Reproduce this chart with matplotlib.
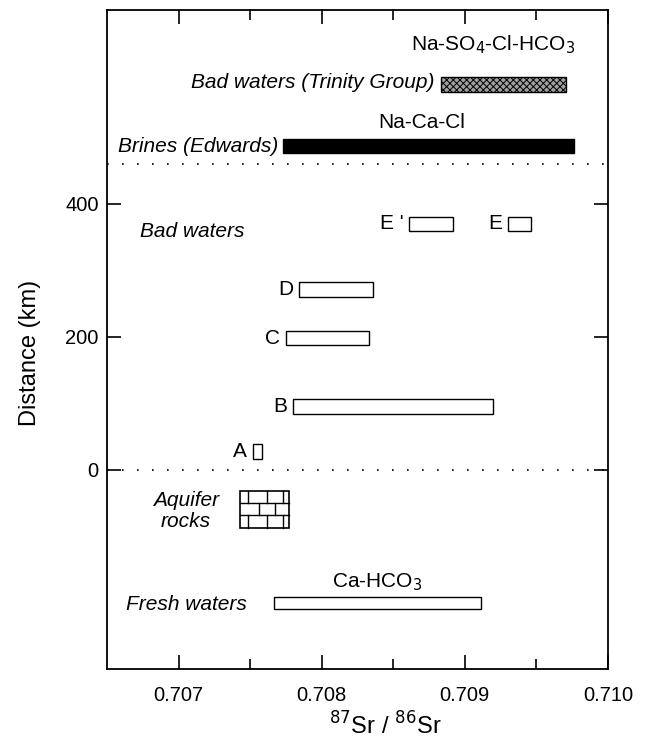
import matplotlib.pyplot as plt
from matplotlib.patches import Rectangle

plt.rcParams['font.family'] = ['Liberation Sans', 'DejaVu Sans']
plt.rcParams['hatch.linewidth'] = 0.7

# bad water samples along the flow path
labels = ["A", "B", "C", "D", "E '", "E"]
sr_lo = [0.70752, 0.70780, 0.70775, 0.70784, 0.70861, 0.70930]
sr_hi = [0.70758, 0.70920, 0.70833, 0.70836, 0.70892, 0.70946]
dist = [27, 95, 198, 271, 370, 370]

# groups
brine_sr = [0.70773, 0.70976]
brine_y = 487
trinity_sr = [0.70883, 0.70971]
trinity_y = 580
rock_sr = [0.70743, 0.70777]
rock_y = [-87, -32]
fresh_sr = [0.70767, 0.70911]
fresh_y = -200

fig = plt.figure(figsize=(6.59, 7.46), dpi=100)
ax = fig.add_axes([0.1624, 0.1032, 0.7602, 0.8834])
ax.set_xlim(0.7065, 0.7100)
ax.set_ylim(-300, 692)

fs = 15

# sample boxes
h = 22
for lab, lo, hi, d in zip(labels, sr_lo, sr_hi, dist):
    ax.add_patch(Rectangle((lo, d - h / 2), hi - lo, h, fill=False, lw=1.0, ec='black'))
    ax.text(lo - 0.00004, d, lab, ha='right', va='center', fontsize=fs)

# brines and trinity
ax.add_patch(Rectangle((brine_sr[0], brine_y - 11), brine_sr[1] - brine_sr[0], 22,
                       fc='black', ec='black'))
ax.add_patch(Rectangle((trinity_sr[0], trinity_y - 11), trinity_sr[1] - trinity_sr[0], 22,
                       fc='#a0a0a0', ec='black', hatch='xxxxx', lw=1.0))
ax.text(trinity_sr[0] - 0.00004, trinity_y + 3, 'Bad waters (Trinity Group)',
        ha='right', va='center', fontsize=fs, style='italic')
ax.text(0.70920, 622, r'Na-SO$_4$-Cl-HCO$_3$', ha='center', va='bottom', fontsize=fs)
ax.text(brine_sr[0] - 0.00003, brine_y, 'Brines (Edwards)',
        ha='right', va='center', fontsize=fs, style='italic')
ax.text(0.70870, 508, 'Na-Ca-Cl', ha='center', va='bottom', fontsize=fs)

ax.text(0.70673, 358, 'Bad waters', ha='left', va='center', fontsize=fs, style='italic')

# aquifer rocks as bricks
x0, x1 = rock_sr
y0, y1 = rock_y
ax.add_patch(Rectangle((x0, y0), x1 - x0, y1 - y0, fill=False, lw=1.2, ec='black'))
rows = 3
rh = (y1 - y0) / rows
for i in range(1, rows):
    ax.plot([x0, x1], [y0 + i * rh] * 2, color='black', lw=1.0)
w = x1 - x0
joints = [[0.17, 0.55, 0.88], [0.38, 0.72], [0.17, 0.55, 0.88]]
for i, js in enumerate(joints):
    for j in js:
        ax.plot([x0 + j * w] * 2, [y1 - i * rh, y1 - (i + 1) * rh], color='black', lw=1.0)
ax.text(0.70705, -62, 'Aquifer\nrocks', ha='center', va='center', fontsize=fs,
        style='italic', linespacing=1.15)

# fresh waters
ax.add_patch(Rectangle((fresh_sr[0], fresh_y - 9), fresh_sr[1] - fresh_sr[0], 18,
                       fill=False, lw=1.0, ec='black'))
ax.text(0.70663, fresh_y - 3, 'Fresh waters', ha='left', va='center', fontsize=fs,
        style='italic')
ax.text(0.70839, fresh_y + 15, r'Ca-HCO$_3$', ha='center', va='bottom', fontsize=fs)

# dotted separators
for yy in [0, 460]:
    ax.axhline(yy, color='black', lw=1.2, ls=(0, (1, 8)))

ax.set_xticks([0.707, 0.708, 0.709, 0.710])
ax.set_xticklabels(['0.707', '0.708', '0.709', '0.710'])
ax.set_xticks([0.7075, 0.7085, 0.7095], minor=True)
ax.set_yticks([0, 200, 400])
ax.tick_params(which='both', direction='in', top=True, right=True, labelsize=14.5, width=1.2)
ax.tick_params(which='major', length=10)
ax.tick_params(axis='x', which='major', pad=12)
ax.tick_params(axis='y', which='major', pad=6)
ax.tick_params(which='minor', length=7)
for s in ax.spines.values():
    s.set_linewidth(1.3)

ax.set_xlabel(r'$^{87}$Sr / $^{86}$Sr', fontsize=17)
ax.xaxis.set_label_coords(0.555, -0.066)
ax.set_ylabel('Distance (km)', fontsize=17)
ax.yaxis.set_label_coords(-0.132, 0.48)

fig.savefig('out.png', dpi=100)
